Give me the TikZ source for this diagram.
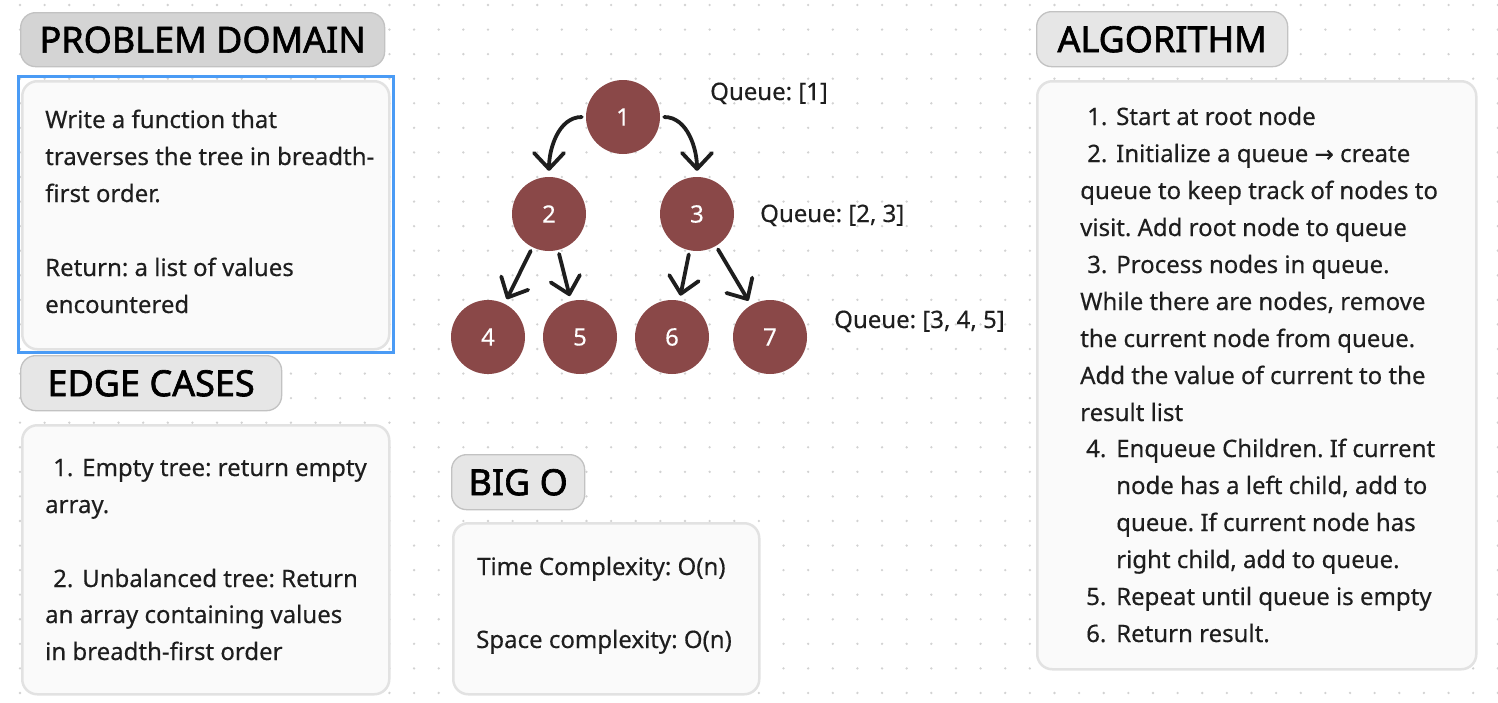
\documentclass[tikz,border=0pt]{standalone}
\usepackage{fontspec}
\setmainfont{Noto Sans}
\newfontfamily\bodyfam{Noto Sans}[FakeBold=0.35]
\newfontfamily\titlefam{Noto Sans}[FakeBold=1.8]
\newfontfamily\symfam{DejaVu Sans}[FakeBold=0.35]
\usetikzlibrary{arrows.meta}
\definecolor{ink}{HTML}{1E1E1E}
\definecolor{dotc}{HTML}{D2D2D2}
\definecolor{bodyfill}{HTML}{FAFAFA}
\definecolor{bodyline}{HTML}{E2E2E2}
\definecolor{titlefill}{HTML}{E6E6E6}
\definecolor{titlefillsel}{HTML}{D4D4D4}
\definecolor{titleline}{HTML}{C2C2C2}
\definecolor{selblue}{HTML}{4A9BF5}
\definecolor{treenode}{HTML}{8A4848}
\newcommand{\bodyfont}{\bodyfam\fontsize{24}{37}\selectfont\frenchspacing}
\newcommand{\titlefont}{\titlefam\fontsize{36}{40}\selectfont}
\tikzset{
  bodybox/.style={draw=bodyline, line width=2.5pt, fill=bodyfill, rounded corners=15pt, inner sep=0pt, anchor=north west},
  titlebox/.style={draw=titleline, line width=1.3pt, fill=titlefill, rounded corners=15pt, inner sep=0pt, anchor=north west, font=\titlefont, text=black, text height=26pt, text depth=0pt},
  txt/.style={anchor=base west, inner sep=0pt, font=\bodyfont, text=ink},
  treecircle/.style={circle, fill=treenode, minimum size=74pt, inner sep=0pt, font=\bodyfont, text=white},
  edge/.style={draw=ink, line width=3.8pt, line cap=round, -{Straight Barb[length=16pt,width=30pt,round]}, shorten <=4pt, shorten >=5pt}
}
\begin{document}
\begin{tikzpicture}[x=1pt,y=-1pt]
\useasboundingbox[fill=white] (0,0) rectangle (1498,702);
% dotted grid
\foreach \i in {0,...,60} {
  \foreach \j in {0,...,28} {
    \fill[dotc] ({20+\i*24.63},{5+\j*24.57}) circle (1.3);
  }
}
% ---------------- PROBLEM DOMAIN ----------------
\node[titlebox, fill=titlefillsel, minimum width=364pt, minimum height=54pt] (pdtitle) at (20,12) {PROBLEM DOMAIN};
\node[draw=selblue, line width=3.4pt, minimum width=375pt, minimum height=276pt, inner sep=0pt, anchor=north west] (pdsel) at (17,75) {};
\node[bodybox, minimum width=367pt, minimum height=268pt] (pdbody) at (21,80) {};
\node[txt] (pd1) at (45,128) {Write a function that};
\node[txt] (pd2) at (45,165) {traverses the tree in breadth-};
\node[txt] (pd3) at (45,202) {first order.};
\node[txt] (pd4) at (45,276) {Return: a list of values};
\node[txt] (pd5) at (45,313) {encountered};
% ---------------- EDGE CASES ----------------
\node[titlebox, minimum width=261pt, minimum height=55pt] (ectitle) at (20,355) {EDGE CASES};
\node[bodybox, minimum width=367pt, minimum height=269pt] (ecbody) at (21,424) {};
\node[txt] (ec1n) at (53,476) {1.};
\node[txt] (ec1) at (82,476) {Empty tree: return empty};
\node[txt] (ec2) at (45,513) {array.};
\node[txt] (ec3n) at (53,587) {2.};
\node[txt] (ec3) at (82,587) {Unbalanced tree: Return};
\node[txt] (ec4) at (45,623) {an array containing values};
\node[txt] (ec5) at (45,660) {in breadth-first order};
% ---------------- BIG O ----------------
\node[titlebox, minimum width=133pt, minimum height=55pt] (botitle) at (451,454) {BIG O};
\node[bodybox, minimum width=306pt, minimum height=171pt] (bobody) at (452,522) {};
\node[txt] (bo1) at (477,575) {Time Complexity: O(n)};
\node[txt] (bo2) at (476,648) {Space complexity: O(n)};
% ---------------- ALGORITHM ----------------
\node[titlebox, minimum width=251pt, minimum height=55pt] (altitle) at (1036,11) {ALGORITHM};
\node[bodybox, minimum width=439pt, minimum height=588pt] (albody) at (1036,80) {};
\node[txt] (al1n) at (1087,125) {1.};
\node[txt] (al1) at (1116,125) {Start at root node};
\node[txt] (al2n) at (1087,162) {2.};
\node[txt] (al2) at (1116,162) {Initialize a queue {\symfam\fontsize{23}{37}\selectfont →} create};
\node[txt] (al3) at (1080,199) {queue to keep track of nodes to};
\node[txt] (al4) at (1080,236) {visit. Add root node to queue};
\node[txt] (al5n) at (1087,273) {3.};
\node[txt] (al5) at (1116,273) {Process nodes in queue.};
\node[txt] (al6) at (1080,310) {While there are nodes, remove};
\node[txt] (al7) at (1080,347) {the current node from queue.};
\node[txt] (al8) at (1080,384) {Add the value of current to the};
\node[txt] (al9) at (1080,421) {result list};
\node[txt] (al10n) at (1086,457) {4.};
\node[txt] (al10) at (1116,457) {Enqueue Children. If current};
\node[txt] (al11) at (1116,494) {node has a left child, add to};
\node[txt] (al12) at (1116,531) {queue. If current node has};
\node[txt] (al13) at (1116,568) {right child, add to queue.};
\node[txt] (al14n) at (1086,605) {5.};
\node[txt] (al14) at (1116,605) {Repeat until queue is empty};
\node[txt] (al15n) at (1086,642) {6.};
\node[txt] (al15) at (1116,642) {Return result.};
% ---------------- TREE ----------------
\node[treecircle] (n1) at (623,117) {1};
\node[treecircle] (n2) at (549,214) {2};
\node[treecircle] (n3) at (697,214) {3};
\node[treecircle] (n4) at (488,337) {4};
\node[treecircle] (n5) at (580,337) {5};
\node[treecircle] (n6) at (672,337) {6};
\node[treecircle] (n7) at (770,337) {7};
\draw[edge, shorten >=6pt] (n1) to[out=180,in=90] (n2);
\draw[edge, shorten >=6pt] (n1) to[out=0,in=90] (n3);
\draw[edge] (n2) -- (n4);
\draw[edge] (n2) -- (n5);
\draw[edge] (n3) -- (n6);
\draw[edge] (n3) -- (n7);
\node[txt] (q1) at (710,100) {Queue: [1]};
\node[txt] (q2) at (760,222) {Queue: [2, 3]};
\node[txt] (q3) at (834,328) {Queue: [3, 4, 5]};
\end{tikzpicture}
\end{document}
